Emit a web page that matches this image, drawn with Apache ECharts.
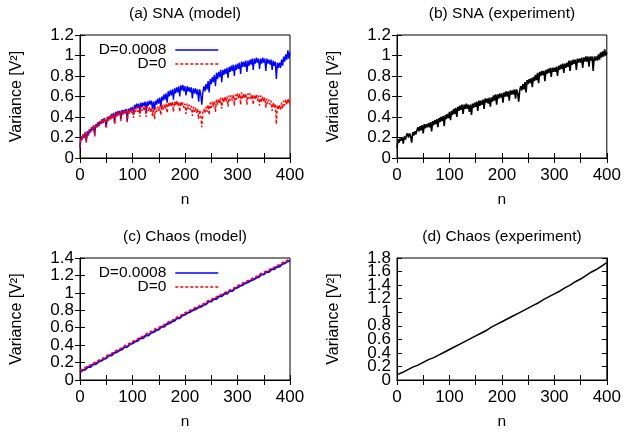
<!DOCTYPE html>
<html>
<head>
<meta charset="utf-8">
<script src="https://cdn.jsdelivr.net/npm/echarts@6/dist/echarts.min.js"></script>
<style>html,body{margin:0;padding:0;background:#fff}#c{width:624px;height:432px}</style>
</head>
<body>
<div id="c"></div>
<script>
// ---- data ----
// panels (a),(b): n = 0,2,4,...,400
const nFine = [];
for (let n = 0; n <= 400; n += 2) nFine.push(n);
// panels (c): n = 0,5,...,400 ; (d): n = 0,10,...,400
const nMid = [];
for (let n = 0; n <= 400; n += 5) nMid.push(n);
const nCoarse = [];
for (let n = 0; n <= 400; n += 10) nCoarse.push(n);

const titles = ['(a) SNA (model)', '(b) SNA (experiment)', '(c) Chaos (model)', '(d) Chaos (experiment)'];
const legendNames = ['D=0.0008', 'D=0'];
const xTicks = [0, 100, 200, 300, 400];
const yMaxes = [1.2, 1.2, 1.4, 1.8];
// panel (d) tick labels (drawn on two stacked label rows so none is dropped)
const dTicksEven = [0, 0.4, 0.8, 1.2, 1.6];
const dTicksOdd = [0.2, 0.6, 1.0, 1.4, 1.8];

const snaModelNoise = [
0.10,0.21,0.18,0.23,0.20,0.25,0.16,0.26,0.22,0.28,
0.25,0.30,0.27,0.32,0.22,0.33,0.30,0.35,0.31,0.36,
0.33,0.38,0.34,0.39,0.36,0.30,0.40,0.37,0.41,0.38,
0.43,0.39,0.44,0.34,0.45,0.41,0.46,0.42,0.46,0.38,
0.47,0.43,0.47,0.44,0.48,0.36,0.48,0.45,0.49,0.46,
0.50,0.42,0.52,0.48,0.53,0.49,0.53,0.45,0.54,0.50,
0.54,0.51,0.55,0.46,0.55,0.51,0.56,0.52,0.56,0.48,
0.55,0.47,0.56,0.52,0.58,0.53,0.59,0.50,0.60,0.56,
0.62,0.57,0.63,0.54,0.65,0.60,0.66,0.61,0.67,0.57,
0.68,0.63,0.69,0.64,0.70,0.60,0.71,0.66,0.71,0.65,
0.70,0.61,0.70,0.65,0.69,0.64,0.69,0.58,0.68,0.63,
0.68,0.62,0.67,0.55,0.67,0.62,0.52,0.64,0.70,0.65,
0.72,0.67,0.75,0.64,0.77,0.72,0.79,0.74,0.81,0.70,
0.83,0.77,0.84,0.79,0.86,0.74,0.86,0.81,0.87,0.82,
0.88,0.78,0.89,0.84,0.90,0.85,0.91,0.80,0.91,0.86,
0.92,0.87,0.93,0.82,0.94,0.89,0.94,0.89,0.95,0.84,
0.95,0.90,0.96,0.91,0.97,0.86,0.97,0.92,0.98,0.93,
0.97,0.87,0.97,0.92,0.98,0.93,0.97,0.85,0.97,0.92,
0.96,0.91,0.96,0.86,0.95,0.90,0.94,0.77,0.93,0.88,
0.93,0.88,0.96,0.90,0.99,0.94,1.01,0.96,1.05,0.97,
1.03];

const snaModelClean = [
0.10,0.20,0.17,0.23,0.19,0.25,0.15,0.26,0.22,0.28,
0.25,0.30,0.27,0.32,0.21,0.33,0.30,0.35,0.31,0.36,
0.33,0.38,0.34,0.39,0.36,0.29,0.40,0.36,0.41,0.37,
0.42,0.38,0.43,0.33,0.44,0.40,0.45,0.41,0.45,0.36,
0.46,0.42,0.46,0.43,0.47,0.35,0.47,0.43,0.48,0.44,
0.48,0.39,0.49,0.45,0.50,0.45,0.50,0.40,0.50,0.46,
0.50,0.46,0.51,0.40,0.50,0.46,0.50,0.45,0.49,0.41,
0.48,0.38,0.49,0.45,0.50,0.46,0.51,0.42,0.52,0.47,
0.52,0.48,0.53,0.44,0.54,0.50,0.55,0.50,0.55,0.45,
0.55,0.51,0.56,0.51,0.55,0.45,0.55,0.51,0.54,0.49,
0.53,0.43,0.53,0.48,0.52,0.47,0.51,0.41,0.50,0.45,
0.49,0.44,0.48,0.38,0.47,0.42,0.30,0.44,0.48,0.44,
0.50,0.45,0.52,0.42,0.54,0.49,0.55,0.50,0.56,0.45,
0.57,0.52,0.58,0.53,0.59,0.48,0.59,0.54,0.60,0.55,
0.60,0.50,0.61,0.56,0.61,0.56,0.62,0.51,0.62,0.57,
0.63,0.58,0.63,0.52,0.64,0.58,0.63,0.58,0.63,0.52,
0.63,0.58,0.63,0.57,0.62,0.52,0.62,0.57,0.62,0.56,
0.61,0.51,0.61,0.55,0.60,0.55,0.59,0.49,0.58,0.53,
0.57,0.52,0.56,0.46,0.54,0.49,0.53,0.33,0.52,0.47,
0.52,0.47,0.54,0.48,0.56,0.51,0.57,0.52,0.58,0.53,
0.57];

const snaExperiment = [
0.10,0.18,0.15,0.19,0.17,0.20,0.14,0.21,0.18,0.22,
0.24,0.20,0.24,0.21,0.15,0.25,0.22,0.26,0.23,0.27,
0.30,0.26,0.31,0.27,0.32,0.24,0.33,0.29,0.33,0.30,
0.34,0.30,0.35,0.26,0.36,0.32,0.37,0.33,0.38,0.30,
0.39,0.35,0.40,0.36,0.41,0.31,0.42,0.38,0.43,0.39,
0.45,0.37,0.46,0.42,0.48,0.43,0.49,0.40,0.50,0.46,
0.51,0.47,0.52,0.43,0.52,0.48,0.53,0.48,0.52,0.45,
0.52,0.42,0.53,0.49,0.54,0.50,0.55,0.46,0.56,0.51,
0.56,0.52,0.57,0.48,0.58,0.54,0.58,0.53,0.59,0.50,
0.59,0.55,0.61,0.56,0.62,0.52,0.62,0.58,0.63,0.59,
0.63,0.54,0.64,0.60,0.65,0.60,0.65,0.56,0.66,0.62,
0.66,0.62,0.67,0.58,0.67,0.63,0.55,0.66,0.70,0.66,
0.72,0.67,0.74,0.64,0.76,0.72,0.77,0.73,0.78,0.69,
0.79,0.75,0.81,0.76,0.83,0.73,0.84,0.80,0.85,0.81,
0.85,0.75,0.86,0.82,0.87,0.83,0.88,0.79,0.88,0.84,
0.88,0.84,0.89,0.80,0.90,0.86,0.91,0.87,0.92,0.83,
0.92,0.88,0.93,0.89,0.95,0.85,0.95,0.91,0.96,0.92,
0.96,0.86,0.97,0.93,0.97,0.93,0.98,0.88,0.98,0.94,
0.99,0.94,0.99,0.89,0.99,0.95,0.99,0.85,0.99,0.95,
0.99,0.95,1.01,0.96,1.03,0.98,1.04,0.99,1.06,1.00,
1.03];

const chaosModelNoise = [
0.09,0.11,0.12,0.15,0.15,0.18,0.18,0.21,0.22,0.24,
0.25,0.28,0.28,0.31,0.32,0.34,0.35,0.38,0.38,0.41,
0.42,0.44,0.45,0.48,0.48,0.51,0.51,0.54,0.55,0.57,
0.58,0.61,0.61,0.64,0.65,0.67,0.68,0.71,0.71,0.74,
0.75,0.77,0.78,0.80,0.81,0.83,0.84,0.86,0.87,0.90,
0.90,0.93,0.93,0.96,0.96,0.99,0.99,1.02,1.02,1.05,
1.06,1.08,1.09,1.11,1.12,1.14,1.15,1.17,1.18,1.21,
1.21,1.24,1.24,1.27,1.27,1.30,1.30,1.33,1.34,1.36,
1.37];

const chaosModelClean = [
0.11,0.12,0.14,0.16,0.17,0.19,0.20,0.22,0.24,0.25,
0.27,0.29,0.30,0.32,0.34,0.35,0.37,0.39,0.40,0.42,
0.44,0.45,0.47,0.49,0.50,0.52,0.54,0.55,0.57,0.59,
0.60,0.62,0.63,0.65,0.67,0.68,0.70,0.72,0.73,0.75,
0.77,0.78,0.80,0.81,0.83,0.84,0.86,0.87,0.89,0.91,
0.92,0.94,0.95,0.97,0.98,1.00,1.01,1.03,1.04,1.06,
1.08,1.09,1.11,1.12,1.14,1.15,1.17,1.18,1.20,1.22,
1.23,1.25,1.26,1.28,1.29,1.31,1.32,1.34,1.36,1.37,
1.39];

const chaosExperiment = [
0.08,0.11,0.15,0.19,0.22,0.26,0.30,0.33,0.37,0.41,
0.45,0.49,0.53,0.57,0.61,0.65,0.69,0.73,0.78,0.82,
0.86,0.90,0.94,0.98,1.02,1.06,1.10,1.14,1.19,1.23,
1.27,1.31,1.36,1.40,1.45,1.49,1.54,1.59,1.63,1.68,
1.73];

// ---- chart ----
const FONT = 'Liberation Sans';
const FS_TICK = 17;
const FS_TEXT = 15.5;
const FS_YNAME = 16;
const grids = [
  {left: 80, top: 35, width: 210, height: 123},
  {left: 397, top: 35, width: 210, height: 123},
  {left: 80, top: 258, width: 210, height: 122},
  {left: 397, top: 258, width: 210, height: 122}
];
const pair = (xs, ys) => xs.map((x, i) => [x, ys[i]]);

const option = {
  animation: false,
  backgroundColor: '#fff',
  textStyle: {fontFamily: FONT},
  title: titles.map((t, i) => ({
    text: t, left: grids[i].left + grids[i].width / 2, top: grids[i].top - 29,
    textAlign: 'center', padding: 0,
    textStyle: {fontFamily: FONT, fontSize: FS_TEXT, fontWeight: 'normal', color: '#000'}
  })),
  grid: grids.map(g => Object.assign({show: true, borderColor: '#000', borderWidth: 1, backgroundColor: 'transparent'}, g)),
  xAxis: [],
  yAxis: [],
  legend: [],
  series: []
};

const tickStyle = {show: true, inside: true, length: 5, lineStyle: {color: '#000'}};
const lineStyleAxis = {show: true, lineStyle: {color: '#000', width: 1}};
const yMainIndex = [];

for (let i = 0; i < 4; i++) {
  option.xAxis.push({
    type: 'value', gridIndex: i, min: 0, max: 400, interval: 50,
    name: 'n', nameLocation: 'middle', nameGap: 34,
    nameTextStyle: {fontFamily: FONT, fontSize: FS_TEXT, color: '#000'},
    axisLine: lineStyleAxis, axisTick: tickStyle,
    axisLabel: {fontFamily: FONT, fontSize: FS_TICK, color: '#000', margin: 9,
      showMinLabel: true, showMaxLabel: true,
      formatter: v => (xTicks.indexOf(v) >= 0 ? String(v) : '')},
    splitLine: {show: false}
  });
  option.xAxis.push({
    type: 'value', gridIndex: i, min: 0, max: 400, interval: 50, position: 'top',
    axisLine: lineStyleAxis, axisTick: tickStyle,
    axisLabel: {show: false}, splitLine: {show: false}
  });

  const isD = (i === 3);
  yMainIndex.push(option.yAxis.length);
  option.yAxis.push({
    type: 'value', gridIndex: i, min: 0, max: yMaxes[i], interval: 0.2,
    name: 'Variance [V²]', nameLocation: 'middle', nameGap: 55, nameRotate: 90,
    nameTextStyle: {fontFamily: FONT, fontSize: FS_YNAME, color: '#000'},
    axisLine: lineStyleAxis, axisTick: tickStyle,
    axisLabel: Object.assign({fontFamily: FONT, fontSize: FS_TICK, color: '#000', margin: 6,
      showMinLabel: true, showMaxLabel: true, hideOverlap: false},
      isD ? {customValues: dTicksEven} : {}),
    splitLine: {show: false}
  });
  if (isD) {
    option.yAxis.push({
      type: 'value', gridIndex: i, min: 0, max: yMaxes[i], interval: 0.2, position: 'left', offset: 0,
      axisLine: {show: false}, axisTick: {show: false},
      axisLabel: {fontFamily: FONT, fontSize: FS_TICK, color: '#000', margin: 6,
        showMinLabel: true, showMaxLabel: true, hideOverlap: false, customValues: dTicksOdd},
      splitLine: {show: false}
    });
  }
  option.yAxis.push({
    type: 'value', gridIndex: i, min: 0, max: yMaxes[i], interval: 0.2, position: 'right',
    axisLine: lineStyleAxis, axisTick: tickStyle,
    axisLabel: {show: false}, splitLine: {show: false}
  });
}

function lineSeries(name, gi, data, color, dashed, w) {
  return {
    type: 'line', name: name, xAxisIndex: gi * 2, yAxisIndex: yMainIndex[gi], data: data,
    symbol: 'none', showSymbol: false, silent: true,
    lineStyle: {color: color, width: w, type: dashed ? [3, 2] : 'solid'},
    itemStyle: {color: color}
  };
}

option.series.push(lineSeries(legendNames[0], 0, pair(nFine, snaModelNoise), '#0000ff', false, 1.4));
option.series.push(lineSeries(legendNames[1], 0, pair(nFine, snaModelClean), '#ff0000', true, 1.4));
option.series.push(lineSeries('exp-b', 1, pair(nFine, snaExperiment), '#000000', false, 1.6));
option.series.push(lineSeries(legendNames[0], 2, pair(nMid, chaosModelNoise), '#0000ff', false, 2));
option.series.push(lineSeries(legendNames[1], 2, pair(nMid, chaosModelClean), '#ff0000', true, 2));
option.series.push(lineSeries('exp-d', 3, pair(nCoarse, chaosExperiment), '#000000', false, 1.5));

[0, 2].forEach(gi => {
  const g = grids[gi];
  legendNames.forEach((nm, k) => {
    option.legend.push({
      data: [nm], orient: 'vertical', align: 'right', padding: 0,
      right: 624 - 219, top: g.top + 7 + k * 14,
      itemWidth: 43, itemHeight: 8, itemGap: 0, selectedMode: false,
      itemStyle: {opacity: 0},
      lineStyle: {width: 1.4},
      textStyle: {fontFamily: FONT, fontSize: FS_TEXT, color: '#000', padding: [0, 4, 0, 0]}
    });
  });
});

const chart = echarts.init(document.getElementById('c'), null, {renderer: 'canvas'});
chart.setOption(option);
</script>
</body>
</html>
